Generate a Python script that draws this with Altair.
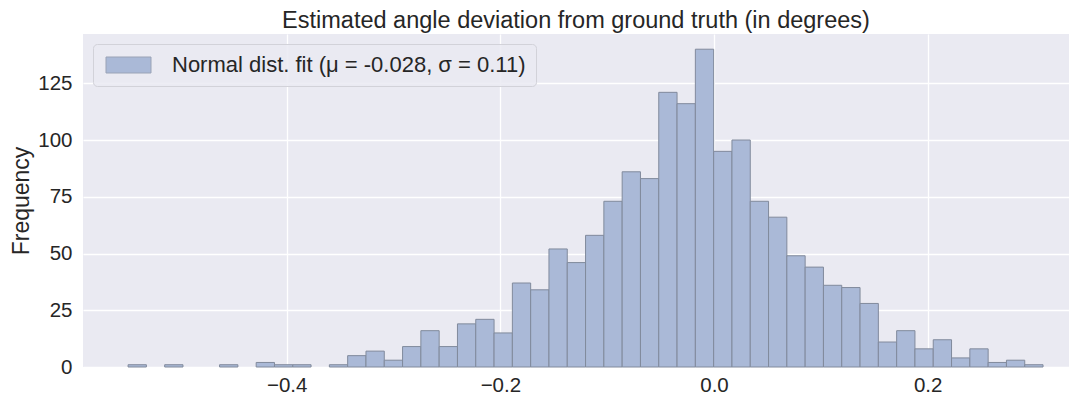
import altair as alt
import numpy as np
import pandas as pd

# Histogram parameters and counts
bin_lo = -0.5485
bin_hi = 0.3080
counts = [1, 0, 1, 0, 0, 1, 0, 2, 1, 1,
          0, 1, 5, 7, 3, 9, 16, 9, 19, 21,
          15, 37, 34, 52, 46, 58, 73, 86, 83, 121,
          116, 140, 95, 100, 73, 66, 49, 44, 36, 35,
          28, 11, 16, 8, 12, 4, 8, 2, 3, 1]
x_ticks = [-0.4, -0.2, 0.0, 0.2]
y_ticks = [0, 25, 50, 75, 100, 125]
legend_label = "Normal dist. fit (μ = -0.028, σ = 0.11)"
title_text = "Estimated angle deviation from ground truth (in degrees)"

edges = np.linspace(bin_lo, bin_hi, len(counts) + 1)
df = pd.DataFrame({
    "start": edges[:-1],
    "end": edges[1:],
    "count": counts,
    "series": [legend_label] * len(counts),
})

FONT = "Liberation Sans"
TXT = "#262626"

bars = alt.Chart(df).transform_filter(alt.datum.count > 0).mark_rect(
    stroke="#818a9c", strokeWidth=1
).encode(
    x=alt.X("start:Q",
            scale=alt.Scale(domain=[-0.5907, 0.3323], nice=False, zero=False),
            axis=alt.Axis(values=x_ticks, format=".1f", title=None,
                          labelFontSize=20.5, labelPadding=8, ticks=False,
                          domain=False, grid=True)),
    x2="end:Q",
    y=alt.Y("count:Q",
            scale=alt.Scale(domain=[0, 146.7], nice=False),
            axis=alt.Axis(values=y_ticks, title="Frequency", titleFontSize=23,
                          titleFontWeight="normal", titlePadding=4,
                          labelFontSize=20.5, labelPadding=11, ticks=False,
                          domain=False, grid=True)),
    color=alt.Color("series:N",
                    scale=alt.Scale(range=["#AAB9D7"]),
                    legend=alt.Legend(
                        title=None, orient="none", legendX=10, legendY=10,
                        symbolType="M-1,-1L4.625,-1L4.625,1L-1,1Z",
                        symbolSize=256, symbolStrokeColor="#9aa3b6",
                        symbolStrokeWidth=1, symbolOpacity=1,
                        labelFontSize=22, labelOffset=47, labelLimit=700,
                        labelColor=TXT, labelFont=FONT,
                        padding=10, cornerRadius=4,
                        fillColor="rgba(234,234,242,0.85)",
                        strokeColor="#d2d2d9")),
    y2=alt.datum(0),
)

chart = bars.properties(
    width=986,
    height=333,
    title=alt.TitleParams(title_text, fontSize=23.5, font=FONT, color=TXT,
                          fontWeight="normal", anchor="middle", offset=2),
    autosize=alt.AutoSizeParams(type="none"),
    padding={"left": 75, "top": 26, "right": 0, "bottom": 28},
    background="white",
).configure_view(
    fill="#EAEAF2", stroke=None
).configure_axis(
    gridColor="white", gridWidth=1.3, labelFont=FONT, titleFont=FONT,
    labelColor=TXT, titleColor=TXT,
)

chart.save("out.html", embed_options={"renderer": "svg", "actions": False})
